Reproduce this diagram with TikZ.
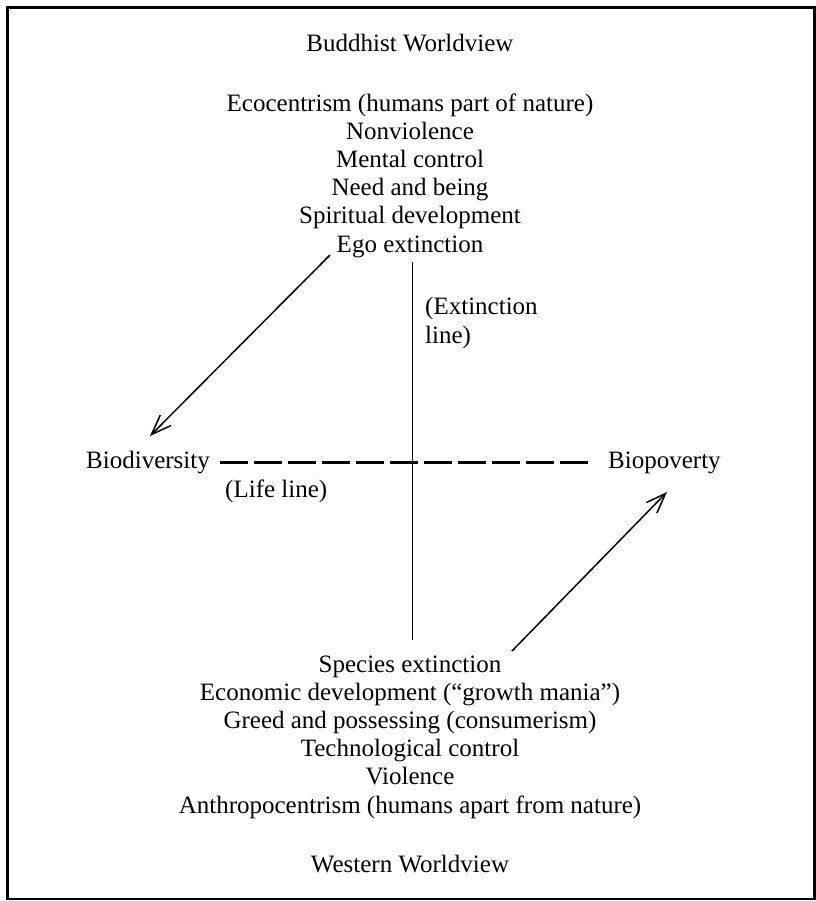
\documentclass[tikz,border=0pt]{standalone}
\usepackage{fontspec}
\setmainfont{Liberation Serif}
\usetikzlibrary{arrows.meta}
\begin{document}
\begin{tikzpicture}[x=1bp,y=-1bp,
  lbl/.style={anchor=base, inner sep=0pt, font=\fontsize{25.1}{30}\selectfont},
  lblw/.style={lbl, anchor=base west},
  lble/.style={lbl, anchor=base east},
  axisline/.style={line width=1.5bp},
  lifeline/.style={line width=3bp, dash pattern=on 28bp off 6bp},
  arr/.style={line width=1.5bp, -{Straight Barb[length=20bp,width=15bp]}},
  frame/.style={line width=2.5bp}]
\useasboundingbox (0,0) rectangle (816,901);
\draw[frame] (7.5,7.5) rectangle (814.5,899);

% top block
\node[lbl] (bw) at (410,51) {Buddhist Worldview};
\node[lbl] (t1) at (410,111) {Ecocentrism (humans part of nature)};
\node[lbl] (t2) at (410,139.2) {Nonviolence};
\node[lbl] (t3) at (410,167.4) {Mental control};
\node[lbl] (t4) at (410,195.6) {Need and being};
\node[lbl] (t5) at (410,223.8) {Spiritual development};
\node[lbl] (t6) at (410,252) {Ego extinction};

% extinction line label
\node[lblw] (ex1) at (425,314) {(Extinction};
\node[lblw] (ex2) at (425,343) {line)};

% life line
\node[lble] (bio) at (210,468) {Biodiversity};
\node[lblw] (pov) at (608,468) {Biopoverty};
\node[lblw] (life) at (225,497) {(Life line)};

% bottom block
\node[lbl] (s1) at (410,672) {Species extinction};
\node[lbl] (s2) at (410,700.2) {Economic development (“growth mania”)};
\node[lbl] (s3) at (410,728.4) {Greed and possessing (consumerism)};
\node[lbl] (s4) at (410,756.6) {Technological control};
\node[lbl] (s5) at (410,784.8) {Violence};
\node[lbl] (s6) at (410,813) {Anthropocentrism (humans apart from nature)};
\node[lbl] (ww) at (410,872) {Western Worldview};

% lines
\coordinate (vt) at (412.5,262);
\coordinate (vb) at (412.5,640);
\draw[axisline] (vt) -- (vb);

\coordinate (ll) at (220,462);
\coordinate (lr) at (588,462);
\draw[lifeline] (ll) -- (lr);

\coordinate (a1s) at (330,255);
\coordinate (a1e) at (150,436);
\draw[arr] (a1s) -- (a1e);

\coordinate (a2s) at (512,651);
\coordinate (a2e) at (667,492);
\draw[arr] (a2s) -- (a2e);
\end{tikzpicture}
\end{document}
